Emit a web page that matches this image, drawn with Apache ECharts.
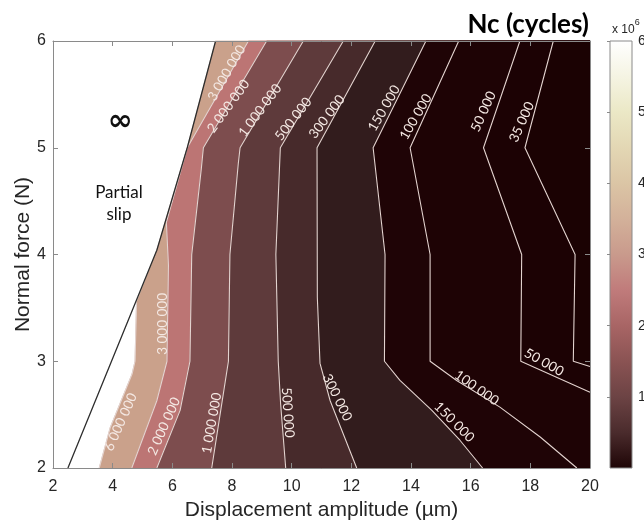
<!DOCTYPE html>
<html><head><meta charset="utf-8">
<script src="https://cdn.jsdelivr.net/npm/echarts@6/dist/echarts.min.js"></script>
<style>html,body{margin:0;padding:0;background:#fff}#c{width:644px;height:523px}</style>
</head><body><div id="c"></div>
<script>
// ---- Data: contour levels of Nc (cycles) ----
const levels = [6000000, 3000000, 2000000, 1000000, 500000, 300000, 150000, 100000, 50000, 35000];
// Contour lines, points as [displacement amplitude (µm), normal force (N)], from lower end to top end
const line6M   = [[3.55,2],[3.92,2.38],[4.65,2.88],[4.75,3.0],[4.8,3.55]];
const line3M   = [[4.64,2],[5.48,2.63],[5.82,3.0],[5.87,3.9],[5.8,4.3],[6.5,5.0],[8.55,6]];
const line2M   = [[5.48,2],[6.26,2.54],[6.59,3.0],[6.65,4.0],[6.97,4.8],[7.04,5.0],[9.16,6]];
const line1M   = [[7.32,2],[7.6,2.5],[7.88,3.0],[7.93,4.0],[8.21,4.85],[8.27,5.0],[10.39,6]];
const line500k = [[9.8,2],[9.63,2.6],[9.55,3.0],[9.47,4.0],[9.62,5.0],[11.73,6]];
const line300k = [[12.18,2],[11.29,2.63],[10.95,2.98],[10.86,3.6],[10.85,5.0],[12.8,6]];
const line150k = [[16.4,2],[15.64,2.26],[14.7,2.54],[13.63,2.82],[13.11,3.0],[13.13,4.0],[12.73,5.0],[14.5,6]];
const line100k = [[19.56,2],[18.33,2.29],[16.98,2.57],[15.53,2.82],[14.64,3.0],[14.64,4.0],[13.97,5.0],[15.6,6]];
const line50k  = [[20,2.71],[17.68,3.0],[17.71,4.0],[16.43,5.0],[17.65,6]];
const line35k  = [[20,2.95],[19.44,3.0],[19.5,4.0],[17.82,5.0],[18.77,6]];
// Partial slip / gross slip boundary
const slipBoundary = [[2.5,2],[5.48,4.04],[6.5,5.0],[7.45,6]];
// Axis ticks
const xTicks = [2,4,6,8,10,12,14,16,18,20];
const yTicks = [2,3,4,5,6];
const cbTicks = [1,2,3,4,5,6];        // colorbar, x 10^6
// Colormap anchors [Nc / 1e6, colour]
const cmapValues = [0,0.5,1,1.5,2,2.5,3,3.5,4,4.5,5,5.5,6];
const cmapColors = ['#1e0506','#4a2b2c','#6c4344','#8a5353','#a86565','#c07b7b','#c99a8c','#d3b19a','#dbc5a5','#e3d7b4','#ebe8c6','#f5f4e3','#ffffff'];

// ---- Styles / layout (not data) ----
const bandColors = ['#caa18b','#bc7574','#7d4d4e','#5e3a3b','#472a2b','#321c1d','#1f0406','#1e0305','#1c0204','#1b0203'];
const contourLabels = [
  {level:3000000, at:[7.82,5.70], rot:60},
  {level:2000000, at:[7.88,5.39], rot:54},
  {level:1000000, at:[8.94,5.35], rot:53},
  {level:500000,  at:[10.06,5.27], rot:52},
  {level:300000,  at:[11.18,5.29], rot:53},
  {level:150000,  at:[13.1,5.37], rot:60},
  {level:100000,  at:[14.16,5.29], rot:60},
  {level:50000,   at:[16.43,5.34], rot:66},
  {level:35000,   at:[17.71,5.24], rot:66},
  {level:6000000, at:[4.27,2.43], rot:66},
  {level:3000000, at:[5.66,3.35], rot:90},
  {level:2000000, at:[5.72,2.39], rot:66},
  {level:1000000, at:[7.32,2.42], rot:80},
  {level:500000,  at:[9.87,2.52], rot:-86},
  {level:300000,  at:[11.53,2.66], rot:-64},
  {level:150000,  at:[15.45,2.43], rot:-45},
  {level:100000,  at:[16.2,2.75], rot:-35},
  {level:50000,   at:[18.46,2.99], rot:-29}
];
const annotations = [
  {text:'∞', at:[4.25,5.24], font:'bold 30px "DejaVu Sans"'},
  {text:'Partial\nslip', at:[4.21,4.48], font:'17px Lato'}
];

const X_MIN = 2, X_MAX = 20, Y_MIN = 2, Y_MAX = 6;
const CB_MIN = 0, CB_MAX = 6;

function fmt(n){ return String(n).replace(/\B(?=(\d{3})+(?!\d))/g, ' '); }

const tanEdge = line6M.concat(slipBoundary.filter(p => p[1] > line6M[line6M.length-1][1]));
const fillEdges = [tanEdge, line3M, line2M, line1M, line500k, line300k, line150k, line100k, line50k, line35k];
const contourLines = [line6M, line3M, line2M, line1M, line500k, line300k, line150k, line100k, line50k, line35k];

function regionRight(edge){
  const pts = edge.slice();
  pts.push([X_MAX, Y_MAX]);
  if (edge[0][1] <= Y_MIN) pts.push([X_MAX, Y_MIN]);
  return pts;
}

const chart = echarts.init(document.getElementById('c'), null, {renderer:'canvas'});

const axisGray = '#8a8a8a';
const tickFont = {color:'#262626', fontSize:16, fontFamily:'"Liberation Sans", Arial, sans-serif'};
const nameFont = {color:'#262626', fontSize:21, fontFamily:'"Liberation Sans", Arial, sans-serif'};

const series = [];
fillEdges.forEach((edge, i) => {
  series.push({
    type:'custom', xAxisIndex:0, yAxisIndex:0, silent:true, z:2,
    data:[[X_MIN, Y_MIN]],
    renderItem:(params, api) => ({
      type:'polygon',
      shape:{points: regionRight(edge).map(p => api.coord(p))},
      style:{fill: bandColors[i], stroke: bandColors[i], lineWidth:0.6}
    })
  });
});
contourLines.forEach(l => {
  series.push({type:'line', xAxisIndex:0, yAxisIndex:0, data:l, symbol:'none', silent:true, z:4,
    lineStyle:{color:'#e3d3cf', width:1.1}});
});
series.push({type:'line', xAxisIndex:0, yAxisIndex:0, data:slipBoundary, symbol:'none', silent:true, z:5,
  lineStyle:{color:'#2e2e2e', width:1.3}});
series.push({
  type:'custom', xAxisIndex:0, yAxisIndex:0, silent:true, z:6,
  data: contourLabels.map(l => [l.at[0], l.at[1]]),
  renderItem:(params, api) => {
    const L = contourLabels[params.dataIndex];
    const p = api.coord([api.value(0), api.value(1)]);
    return {type:'text', x:p[0], y:p[1], rotation:L.rot*Math.PI/180,
      style:{text:fmt(L.level), fill:'#f4e8e3', font:'13.5px Lato', align:'center', verticalAlign:'middle'}};
  }
});
series.push({
  type:'custom', xAxisIndex:0, yAxisIndex:0, silent:true, z:6,
  data: annotations.map(a => [a.at[0], a.at[1]]),
  renderItem:(params, api) => {
    const A = annotations[params.dataIndex];
    const p = api.coord([api.value(0), api.value(1)]);
    return {type:'text', x:p[0], y:p[1],
      style:{text:A.text, fill:'#111', font:A.font, align:'center', verticalAlign:'middle', lineHeight:22}};
  }
});
// colorbar
series.push({
  type:'custom', xAxisIndex:2, yAxisIndex:2, silent:true, z:2,
  data:[[0, CB_MIN]],
  renderItem:(params, api) => {
    const p0 = api.coord([0, CB_MAX]);
    const p1 = api.coord([1, CB_MIN]);
    const stops = cmapValues.map((v, i) => ({
      offset: Math.min(1, Math.max(0, (CB_MAX - v) / (CB_MAX - CB_MIN))), color: cmapColors[i]
    })).sort((a,b) => a.offset - b.offset);
    return {type:'rect', shape:{x:p0[0], y:p0[1], width:p1[0]-p0[0], height:p1[1]-p0[1]},
      style:{fill:new echarts.graphic.LinearGradient(0,0,0,1,stops), stroke:axisGray, lineWidth:1}};
  }
});

const option = {
  animation:false,
  backgroundColor:'#ffffff',
  title:{text:'Nc (cycles)', right:50, top:7,
    textStyle:{fontFamily:'Lato', fontWeight:'bold', fontSize:26, color:'#000'}},
  graphic:[{type:'text', left:612, top:18,
    style:{text:'{a|x 10}{b|6}', rich:{a:{fontSize:12, fontFamily:'"Liberation Sans", Arial', fill:'#262626', padding:[6,0,0,0]},
      b:{fontSize:9, fontFamily:'"Liberation Sans", Arial', fill:'#262626', verticalAlign:'top'}}}}],
  grid:[
    {left:53, top:41, width:537, height:427, outerBoundsMode:'none'},
    {left:610, top:41, width:22, height:427, outerBoundsMode:'none'}
  ],
  xAxis:[
    {gridIndex:0, type:'value', min:X_MIN, max:X_MAX, interval:2, position:'bottom', z:10,
     name:'Displacement amplitude (µm)', nameLocation:'middle', nameGap:32, nameTextStyle:nameFont,
     axisLine:{show:true, lineStyle:{color:axisGray}}, axisTick:{show:true, inside:true, length:5, lineStyle:{color:axisGray}},
     axisLabel:{...tickFont, margin:11, customValues:xTicks}, splitLine:{show:false}},
    {gridIndex:0, type:'value', min:X_MIN, max:X_MAX, interval:2, position:'top', z:10,
     axisLine:{show:true, lineStyle:{color:axisGray}}, axisTick:{show:true, inside:true, length:5, lineStyle:{color:axisGray}},
     axisLabel:{show:false}, splitLine:{show:false}},
    {gridIndex:1, type:'value', min:0, max:1, show:false}
  ],
  yAxis:[
    {gridIndex:0, type:'value', min:Y_MIN, max:Y_MAX, interval:1, position:'left', z:10,
     name:'Normal force (N)', nameLocation:'middle', nameGap:19, nameMoveOverlap:false, nameTextStyle:nameFont,
     axisLine:{show:true, lineStyle:{color:axisGray}}, axisTick:{show:true, inside:true, length:5, lineStyle:{color:axisGray}},
     axisLabel:{...tickFont, margin:7, customValues:yTicks}, splitLine:{show:false}},
    {gridIndex:0, type:'value', min:Y_MIN, max:Y_MAX, interval:1, position:'right', z:10,
     axisLine:{show:true, lineStyle:{color:axisGray}}, axisTick:{show:true, inside:true, length:5, lineStyle:{color:axisGray}},
     axisLabel:{show:false}, splitLine:{show:false}},
    {gridIndex:1, type:'value', min:CB_MIN, max:CB_MAX, position:'right', z:10,
     axisLine:{show:false}, axisTick:{show:true, inside:true, length:3, lineStyle:{color:axisGray}, customValues:cbTicks},
     axisLabel:{color:'#262626', fontSize:14, fontFamily:'"Liberation Sans", Arial', margin:6, customValues:cbTicks},
     splitLine:{show:false}}
  ],
  series: series
};
chart.setOption(option);
</script>
</body></html>
